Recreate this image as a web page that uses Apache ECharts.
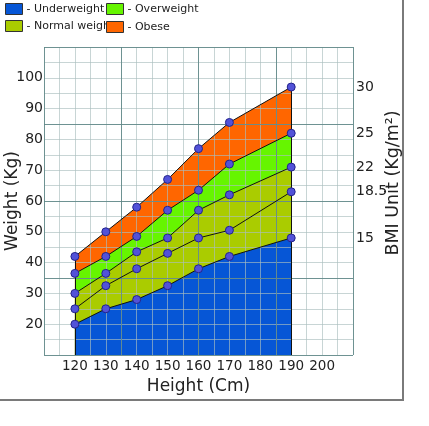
<!DOCTYPE html>
<html>
<head>
<meta charset="utf-8">
<script src="https://cdn.jsdelivr.net/npm/echarts@6/dist/echarts.min.js"></script>
<style>
  html, body { margin: 0; padding: 0; background: #fff; }
  #chart { width: 429px; height: 426px; }
  #frame { position: absolute; left: -2px; top: -2px; width: 404px; height: 401px;
           border-right: 2px solid #7a7a7a; border-bottom: 2px solid #7a7a7a; pointer-events: none; }
</style>
</head>
<body>
<div id="chart"></div>
<div id="frame"></div>
<script>
// BMI chart: weight (kg) against height (cm), bands between BMI lines
const heights = [120, 130, 140, 150, 160, 170, 190];
const bmi15 = [20, 25, 28, 32.5, 38, 42, 48];
const bmi185 = [25, 32.5, 38, 43, 48, 50.5, 63];
const bmi22 = [30, 36.5, 43.5, 48, 57, 62, 71];
const bmi25 = [36.5, 42, 48.5, 57, 63.5, 72, 82];
const bmi30 = [42, 50, 58, 67, 77, 85.5, 97];

const bmiLabels = ['15', '18.5', '22', '25', '30'];
const xTickLabels = [120, 130, 140, 150, 160, 170, 180, 190, 200];
const yTickLabels = [20, 30, 40, 50, 60, 70, 80, 90, 100];

const X_MIN = 110, X_MAX = 210, Y_MIN = 10, Y_MAX = 110;
const FONT = 'DejaVu Sans';
const minorLine = 'rgba(170,190,190,0.65)';
const majorLine = 'rgba(95,135,135,0.85)';

const pts = arr => heights.map((h, i) => [h, arr[i]]);
const lines = [bmi15, bmi185, bmi22, bmi25, bmi30];
const rightTicks = lines.map(a => a[a.length - 1]);

function area(name, arr, color) {
  return {
    name, type: 'line', data: pts(arr), z: 1,
    symbol: 'none', lineStyle: { width: 0 },
    itemStyle: { color },
    areaStyle: { color, opacity: 1, origin: 'start' },
    silent: true,
  };
}

function bmiLine(idx) {
  return {
    name: 'BMI ' + bmiLabels[idx], type: 'line', data: pts(lines[idx]), z: 5,
    symbol: 'circle', symbolSize: 8,
    lineStyle: { color: '#111', width: 1 },
    itemStyle: { color: '#5252d8', borderColor: '#23238a', borderWidth: 1 },
    silent: true,
  };
}

const edgeSeries = bmiLine(4);
edgeSeries.markLine = {
  silent: true, symbol: 'none', label: { show: false },
  lineStyle: { color: '#111', width: 1, type: 'solid' },
  data: [
    [{ coord: [heights[0], Y_MIN] }, { coord: [heights[0], bmi30[0]] }],
    [{ coord: [heights[heights.length - 1], Y_MIN] }, { coord: [heights[heights.length - 1], bmi30[bmi30.length - 1]] }],
  ],
};

const legendBase = {
  orient: 'vertical', padding: 0,
  itemWidth: 17, itemHeight: 11, icon: 'rect',
  itemStyle: { borderColor: '#333', borderWidth: 1 },
  formatter: '- {name}',
  textStyle: { fontFamily: FONT, fontSize: 11, color: '#222', padding: [0, 0, 0, -1] },
};

const chart = echarts.init(document.getElementById('chart'));
chart.setOption({
  animation: false,
  textStyle: { fontFamily: FONT },
  legend: [
    Object.assign({}, legendBase, { left: 5, top: 3, itemGap: 5, data: ['Underweight', 'Normal weight'] }),
    Object.assign({}, legendBase, { left: 106, top: 3, itemGap: 6, data: ['Overweight', 'Obese'] }),
  ],
  grid: { left: 44, top: 47, width: 309, height: 308, outerBoundsMode: 'none', containLabel: false },
  xAxis: [
    {
      type: 'value', min: X_MIN, max: X_MAX, interval: 5, z: 3,
      name: 'Height (Cm)', nameLocation: 'middle', nameGap: 22,
      nameTextStyle: { fontFamily: FONT, fontSize: 17, color: '#222' },
      axisLine: { show: false }, axisTick: { show: false },
      axisLabel: { customValues: xTickLabels, margin: 4, fontSize: 13.5, color: '#222', fontFamily: FONT },
      splitLine: { show: true, lineStyle: { color: minorLine, width: 1 } },
    },
    {
      type: 'value', min: 0, max: 100, interval: 25, z: 4, position: 'top',
      axisLine: { show: false }, axisTick: { show: false }, axisLabel: { show: false },
      splitLine: { show: true, lineStyle: { color: majorLine, width: 1 } },
    },
  ],
  yAxis: [
    {
      type: 'value', min: Y_MIN, max: Y_MAX, interval: 5, z: 3,
      name: 'Weight (Kg)', nameLocation: 'middle', nameGap: 23, nameMoveOverlap: false,
      nameTextStyle: { fontFamily: FONT, fontSize: 17, color: '#222' },
      axisLine: { show: false }, axisTick: { show: false },
      axisLabel: { customValues: yTickLabels, margin: 1, fontSize: 14, color: '#222', fontFamily: FONT },
      splitLine: { show: true, lineStyle: { color: minorLine, width: 1 } },
    },
    {
      type: 'value', min: Y_MIN, max: Y_MAX, position: 'right', z: 3,
      name: 'BMI Unit (Kg/m²)', nameLocation: 'middle', nameGap: 31, nameRotate: 90, nameMoveOverlap: false,
      nameTextStyle: { fontFamily: FONT, fontSize: 17.5, color: '#222', padding: [0, 0, 0, 36] },
      axisLine: { show: false }, axisTick: { show: false },
      axisLabel: {
        customValues: rightTicks, margin: 3, fontSize: 14, color: '#222', fontFamily: FONT,
        formatter: v => bmiLabels[rightTicks.indexOf(v)] ?? '',
      },
      splitLine: { show: false },
    },
    {
      type: 'value', min: 0, max: 100, interval: 25, z: 4, position: 'right',
      axisLine: { show: false }, axisTick: { show: false }, axisLabel: { show: false },
      splitLine: { show: true, lineStyle: { color: majorLine, width: 1 } },
    },
  ],
  series: [
    area('Obese', bmi30, '#ff6600'),
    area('Overweight', bmi25, '#66f500'),
    area('Normal weight', bmi22, '#aacc00'),
    area('Underweight', bmi15, '#0656d6'),
    bmiLine(0), bmiLine(1), bmiLine(2), bmiLine(3), edgeSeries,
  ],
});
</script>
</body>
</html>
